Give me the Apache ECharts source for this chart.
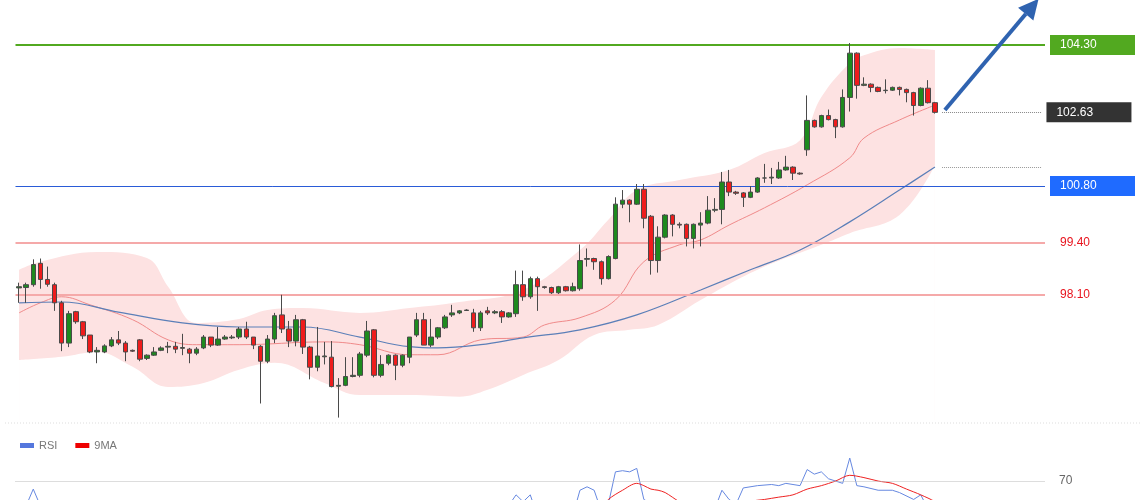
<!DOCTYPE html>
<html><head><meta charset="utf-8">
<script src="https://cdn.jsdelivr.net/npm/echarts@6/dist/echarts.min.js"></script>
<style>html,body{margin:0;padding:0;background:#fff}#c{width:1140px;height:500px}</style>
</head><body><div id="c"></div>
<script>
// candles: [open, close, low, high]
const candles = [
[98.27,98.30,97.90,98.40],[98.28,98.35,97.90,98.40],[98.35,98.85,98.30,98.98],[98.88,98.48,98.25,99.00],[98.48,98.36,98.30,98.80],
[98.35,97.90,97.70,98.40],[97.90,96.90,96.70,97.95],[96.90,97.63,96.80,97.70],[97.68,97.43,97.38,97.70],[97.43,97.08,97.00,97.45],
[97.10,96.68,96.65,97.10],[96.68,96.72,96.40,96.80],[96.68,96.83,96.65,96.87],[96.83,96.98,96.80,97.05],[96.98,96.90,96.85,97.20],
[96.90,96.68,96.45,96.95],[96.72,96.70,96.68,96.74],[96.98,96.50,96.45,97.00],[96.52,96.60,96.48,96.62],[96.60,96.68,96.58,96.80],
[96.72,96.78,96.70,96.82],[96.80,96.82,96.65,96.93],[96.82,96.75,96.65,96.93],[96.77,96.79,96.60,97.13],[96.75,96.65,96.40,96.78],
[96.65,96.75,96.60,96.80],[96.78,97.05,96.75,97.10],[97.05,96.85,96.80,97.05],[96.85,97.00,96.83,97.30],[97.00,97.05,96.98,97.10],
[97.03,97.05,97.00,97.10],[97.05,97.25,97.00,97.30],[97.25,97.05,97.00,97.43],[97.05,96.85,96.75,97.05],[96.82,96.45,95.40,96.85],
[96.45,97.00,96.40,97.10],[97.00,97.58,96.90,97.65],[97.60,97.25,97.15,98.10],[97.25,96.95,96.80,97.45],[96.95,97.48,96.82,97.60],
[97.48,96.80,96.63,97.50],[96.80,96.30,96.00,96.83],[96.30,96.58,96.20,97.30],[96.56,96.58,96.37,96.93],[96.55,95.82,95.80,96.95],
[95.83,95.85,95.05,96.03],[95.85,96.07,95.83,96.55],[96.07,96.10,96.05,96.55],[96.10,96.63,96.05,96.68],[96.60,97.20,96.55,97.45],
[97.23,96.10,96.05,97.25],[96.10,96.37,96.05,96.60],[96.40,96.60,96.35,96.62],[96.60,96.35,95.98,96.62],[96.35,96.60,96.30,96.62],
[96.55,97.05,96.40,97.05],[97.10,97.48,97.05,97.65],[97.48,96.85,96.85,97.65],[96.85,97.05,96.80,97.50],[97.05,97.28,97.00,97.30],
[97.28,97.55,97.25,97.60],[97.60,97.65,97.55,97.85],[97.65,97.70,97.62,97.72],[97.71,97.72,97.70,97.74],[97.65,97.28,97.18,97.75],
[97.28,97.65,97.20,97.70],[97.70,97.65,97.60,97.80],[97.65,97.68,97.62,97.72],[97.68,97.55,97.40,97.72],[97.55,97.65,97.53,97.67],
[97.63,98.35,97.55,98.70],[98.35,98.05,97.95,98.70],[98.05,98.50,98.00,98.55],[98.50,98.30,97.70,98.55],[98.30,98.28,98.25,98.32],
[98.28,98.15,98.12,98.30],[98.15,98.30,98.12,98.32],[98.30,98.20,98.18,98.32],[98.20,98.30,98.18,98.40],[98.25,98.95,98.20,99.35],
[98.98,99.00,98.80,99.25],[99.00,98.92,98.72,99.02],[98.92,98.50,98.35,98.95],[98.50,99.05,98.48,99.08],[99.00,100.35,98.98,100.52],
[100.35,100.45,100.25,100.70],[100.45,100.35,99.90,100.47],[100.35,100.72,100.33,100.85],[100.72,100.00,99.75,100.85],[100.05,98.95,98.60,100.08],
[98.95,99.53,98.65,99.80],[99.53,100.08,99.50,100.10],[100.08,99.85,99.55,100.10],[99.85,99.83,99.75,99.90],[99.85,99.50,99.30,99.87],
[99.50,99.85,99.25,99.87],[99.83,99.88,99.30,100.15],[99.88,100.20,99.85,100.55],[100.20,100.22,100.15,100.50],[100.22,100.90,99.85,101.15],
[100.90,100.65,100.55,101.20],[100.65,100.62,100.58,100.68],[100.63,100.52,100.28,100.65],[100.52,100.65,100.50,100.80],[100.65,101.00,100.63,101.02],
[101.00,101.00,100.88,101.35],[101.00,101.02,100.85,101.25],[101.00,101.20,100.98,101.40],[101.20,101.27,101.18,101.55],[101.27,101.12,100.95,101.29],
[101.12,101.10,101.08,101.14],[101.70,102.43,101.55,103.05],[102.43,102.27,102.25,102.45],[102.27,102.55,102.25,102.57],[102.55,102.45,102.43,102.70],
[102.45,102.27,101.99,102.47],[102.27,103.00,102.25,103.20],[103.00,104.10,102.65,104.35],[104.10,103.30,102.97,104.12],[103.30,103.33,103.28,103.50],
[103.33,103.25,103.13,103.35],[103.25,103.15,103.13,103.27],[103.17,103.18,103.10,103.45],[103.18,103.25,103.16,103.27],[103.25,103.20,103.05,103.27],
[103.20,103.12,102.88,103.22],[103.12,102.80,102.55,103.14],[102.80,103.23,102.78,103.25],[103.23,102.87,102.85,103.43],[102.87,102.63,102.60,102.89]
];
const slots = 145;
const bandUpper = [[0,98.72],[3,98.92],[11,99.16],[18,99.01],[21,98.30],[25,97.40],[31,97.50],[35,97.72],[40,97.77],[48,97.65],[55,97.77],[62,97.92],[71,98.22],[79,99.21],[83,99.96],[87,100.70],[93,100.95],[100,101.20],[105,101.62],[110,101.94],[113,103.01],[117,103.85],[119,104.05],[124,104.23],[129,104.18]];
const bandLower = [[0,96.48],[6,96.56],[11,96.68],[16,96.31],[21,95.81],[26,95.91],[31,96.24],[36,96.41],[43,95.91],[48,95.61],[55,95.61],[62,95.57],[66,95.74],[71,96.11],[76,96.48],[81,97.10],[86,97.23],[90,97.35],[96,97.97],[104,98.72],[113,99.34],[117,99.63],[124,100.08],[129,101.32]];
const maFast = [[0,97.65],[3,97.90],[6,98.05],[10,97.85],[16,97.48],[21,96.98],[25,96.86],[31,96.86],[43,96.93],[48,96.86],[55,96.61],[59,96.61],[65,96.98],[71,97.05],[74,97.35],[79,97.53],[84,97.97],[88,98.92],[93,99.34],[96,99.46],[100,99.83],[105,100.26],[111,100.83],[117,101.50],[119,101.99],[124,102.44],[129,102.81]];
const maSlow = [[0,97.90],[6,97.92],[14,97.67],[23,97.40],[31,97.30],[40,97.30],[48,97.05],[55,96.81],[59,96.78],[65,96.86],[71,97.03],[79,97.23],[87,97.60],[96,98.22],[103,98.72],[110,99.21],[117,99.91],[124,100.70],[129,101.27]];
const rsi = [[0,52],[2,66.5],[4,52],[68,55],[70,64],[71,61],[72,64],[73,55],[78,55],[79,66],[80,67.5],[81,66],[82,57],[83,60],[84,74],[85,74.5],[86,74],[87,75.5],[88,62],[92,55],[98,58],[99,66],[100,62],[101,60],[102,67],[104,68],[106,68.5],[107,68],[108,69],[110,68],[111,75],[112,73],[113,74],[114,71],[116,69],[117,80],[118,68],[119,67.5],[121,66],[123,66],[124,65],[126,62],[127,64],[128,58],[129,56]];
const rsiMA = [[80,55],[82,58],[83,62],[85,66],[87,69],[88,68],[89,66.5],[90,66],[91,65],[93,61],[95,58],[102,58],[103,61],[105,62],[107,63],[109,64],[111,66.5],[113,68],[115,70],[117,72.5],[119,71.5],[121,70],[123,69],[125,66.5],[127,64],[129,61],[130,58]];
const levels = [{v:104.30,t:'104.30',c:'#52a920',bg:'#52a920',w:2,type:'solid'},{v:100.80,t:'100.80',c:'#2a5bd7',bg:'#1f6bff',w:1,type:'solid'},{v:99.40,t:'99.40',c:'#f5a9a9',bg:null,w:2,type:'solid'},{v:98.10,t:'98.10',c:'#f5a9a9',bg:null,w:2,type:'solid'}];
const lastPrice = 102.63;
const arrowFrom = [130.4, 102.69], arrowTo = [143.6, 105.45];

const cats = Array.from({length:slots},(_,i)=>i);
const chart = echarts.init(document.getElementById('c'));
const lbl = (t,c,bg)=>({show:true,position:'end',distance:5,formatter:t,color:c,fontSize:12,fontFamily:'Arial',backgroundColor:bg,padding:[4,10],width:65,align:'left'});
const ml = levels.map(l=>({yAxis:l.v,lineStyle:{color:l.c,width:l.w,type:l.type},label:lbl(l.t,l.bg?'#fff':'#e8141e',l.bg||'transparent')}));
chart.setOption({
  animation:false,
  legend:{left:15,top:435,itemWidth:14,itemHeight:5,icon:'rect',itemGap:18,textStyle:{color:'#777',fontSize:11,fontFamily:'Arial'},data:['RSI','9MA']},
  grid:[{left:15.5,right:95,top:0,height:420},{left:15.5,right:95,top:450,height:50}],
  xAxis:[{type:'category',data:cats,gridIndex:0,show:false,boundaryGap:true},{type:'category',data:cats,gridIndex:1,show:false,boundaryGap:true}],
  yAxis:[{type:'value',min:94.99,max:105.42,gridIndex:0,show:false,splitLine:{show:false}},{type:'value',min:61.76,max:83.5,gridIndex:1,show:false,splitLine:{show:false}}],
  series:[
    {type:'line',data:bandUpper,smooth:0.4,showSymbol:false,lineStyle:{width:0},areaStyle:{color:'#fde2e2',opacity:1,origin:'start'},z:1,silent:true},
    {type:'line',data:bandLower,smooth:0.4,showSymbol:false,lineStyle:{width:0},areaStyle:{color:'#fff',opacity:1,origin:'start'},z:1,silent:true},
    {type:'line',data:maFast,smooth:0.4,showSymbol:false,lineStyle:{width:1,color:'#f08a8a'},z:2},
    {type:'line',data:maSlow,smooth:0.4,showSymbol:false,lineStyle:{width:1.2,color:'#5b7fb8'},z:2},
    {type:'candlestick',data:candles,barWidth:5,z:5,
      itemStyle:{color:'#1e8a1e',color0:'#ee1c1c',borderColor:'#4a4a4a',borderColor0:'#4a4a4a',borderWidth:1},
      markLine:{symbol:'none',silent:true,z:3,data:[...ml,
        [{coord:[130,lastPrice],lineStyle:{color:'#888',type:'dotted',width:1},label:lbl('102.63','#fff','#333')},{coord:[144,lastPrice]}],
        [{coord:[130,101.27],lineStyle:{color:'#999',type:'dotted',width:1},label:{show:false}},{coord:[144,101.27]}]
      ]}},
    {name:'RSI',type:'line',xAxisIndex:1,yAxisIndex:1,data:rsi,showSymbol:false,clip:true,lineStyle:{width:1,color:'#6688e0'},itemStyle:{color:'#5577dd'},
      markLine:{symbol:'none',silent:true,data:[{yAxis:70,lineStyle:{color:'#bbb',type:'dotted',width:1},label:{show:true,position:'end',distance:14,formatter:'70',color:'#666',fontSize:12,fontFamily:'Arial'}}]}},
    {name:'9MA',type:'line',xAxisIndex:1,yAxisIndex:1,data:rsiMA,smooth:0.3,showSymbol:false,clip:true,lineStyle:{width:1,color:'#ee2222'},itemStyle:{color:'#ee0000'}}
  ]
});
const p1 = chart.convertToPixel({gridIndex:0},[0,arrowFrom[1]]);
const p2 = chart.convertToPixel({gridIndex:0},[0,arrowTo[1]]);
const c0 = chart.convertToPixel({gridIndex:0},[0,100])[0], c1 = chart.convertToPixel({gridIndex:0},[1,100])[0];
const step = c1-c0;
const x1 = c0+arrowFrom[0]*step, y1 = p1[1], x2 = c0+arrowTo[0]*step, y2 = p2[1];
const ang = Math.atan2(y2-y1,x2-x1), hl=20, hw=10;
const bx = x2-hl*Math.cos(ang), by = y2-hl*Math.sin(ang);
chart.setOption({graphic:[
  {type:'line',shape:{x1:x1,y1:y1,x2:bx,y2:by},style:{stroke:'#2f63b0',lineWidth:4},z:100},
  {type:'polygon',shape:{points:[[x2,y2],[bx+hw*Math.sin(ang),by-hw*Math.cos(ang)],[bx-hw*Math.sin(ang),by+hw*Math.cos(ang)]]},style:{fill:'#2f63b0'},z:100},
  {type:'line',shape:{x1:5,y1:423,x2:1140,y2:423},style:{stroke:'#ddd',lineDash:[1,2],lineWidth:1},z:100}
]});
</script></body></html>
